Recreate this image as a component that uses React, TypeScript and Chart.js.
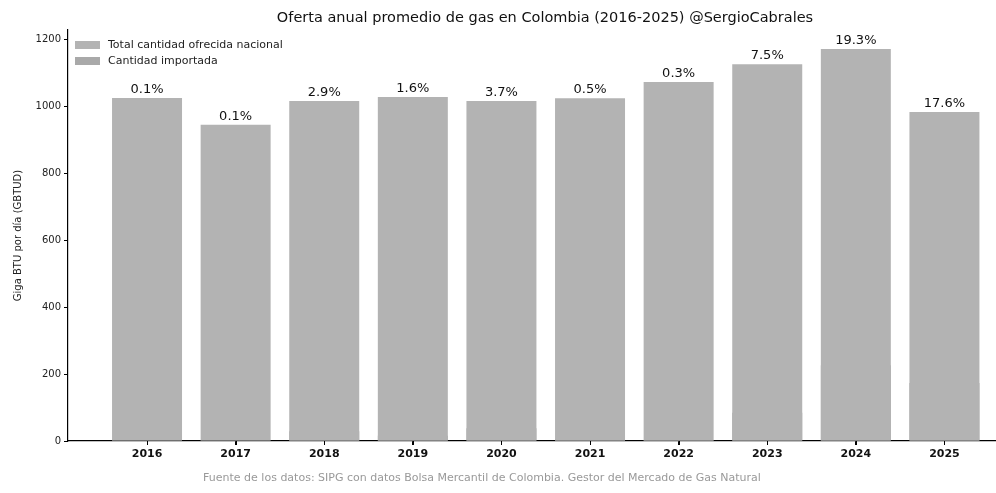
import { useEffect, useRef } from "react";
import { Chart, registerables } from "chart.js";

Chart.register(...registerables);

const years = [2016, 2017, 2018, 2019, 2020, 2021, 2022, 2023, 2024, 2025];
const totalSupply = [1024, 944, 1015, 1027, 1015, 1023, 1072, 1125, 1170, 982];
const importedSupply = [1, 1, 29, 16, 38, 5, 3, 84, 226, 173];
const importedShare = [0.1, 0.1, 2.9, 1.6, 3.7, 0.5, 0.3, 7.5, 19.3, 17.6];
const yTicks = [0, 200, 400, 600, 800, 1000, 1200];

const titleText = "Oferta anual promedio de gas en Colombia (2016-2025) @SergioCabrales";
const yTitle = "Giga BTU por día (GBTUD)";
const legendLabels = ["Total cantidad ofrecida nacional", "Cantidad importada"];
const sourceText =
  "Fuente de los datos: SIPG con datos Bolsa Mercantil de Colombia. Gestor del Mercado de Gas Natural";

const FONT = "'DejaVu Sans', 'Liberation Sans', sans-serif";
const totalColor = "#b3b3b3";
const importColor = "#a9a9a9";

const decorPlugin = {
  id: "decor",
  afterDatasetsDraw(chart: any) {
    const ctx = chart.ctx;
    const meta = chart.getDatasetMeta(0);
    ctx.save();
    ctx.fillStyle = "#111";
    ctx.font = `13px ${FONT}`;
    ctx.textAlign = "center";
    ctx.textBaseline = "bottom";
    meta.data.forEach((bar: any, i: number) => {
      ctx.fillText(importedShare[i].toFixed(1) + "%", bar.x, bar.y - 2);
    });
    ctx.restore();
  },
  afterDraw(chart: any) {
    const ctx = chart.ctx;
    const area = chart.chartArea;
    ctx.save();
    ctx.fillStyle = "#111";
    ctx.font = `14.5px ${FONT}`;
    ctx.textAlign = "center";
    ctx.textBaseline = "middle";
    ctx.fillText(titleText, 545, 18);
    ctx.save();
    ctx.translate(18, (area.top + area.bottom) / 2);
    ctx.rotate(-Math.PI / 2);
    ctx.font = `10px ${FONT}`;
    ctx.fillStyle = "#222";
    ctx.fillText(yTitle, 0, 0);
    ctx.restore();
    const colors = [totalColor, importColor];
    ctx.font = `11px ${FONT}`;
    ctx.textAlign = "left";
    legendLabels.forEach((lab, i) => {
      const y = 45 + i * 16;
      ctx.fillStyle = colors[i];
      ctx.fillRect(75, y - 4, 25, 8);
      ctx.fillStyle = "#222";
      ctx.fillText(lab, 108, y);
    });
    ctx.font = `11px ${FONT}`;
    ctx.fillStyle = "#999";
    ctx.textAlign = "center";
    ctx.fillText(sourceText, 482, 478);
    const xs = chart.scales.x;
    ctx.strokeStyle = "#000";
    ctx.lineWidth = 1;
    years.forEach((yv) => {
      const px = Math.round(xs.getPixelForValue(yv)) + 0.5;
      ctx.beginPath();
      ctx.moveTo(px, area.bottom);
      ctx.lineTo(px, area.bottom + 4);
      ctx.stroke();
    });
    ctx.restore();
  },
};

export default function App() {
  const ref = useRef<HTMLCanvasElement | null>(null);

  useEffect(() => {
    if (!ref.current) return;
    const chart = new Chart(ref.current, {
      type: "bar",
      data: {
        datasets: [
          {
            label: legendLabels[0],
            data: years.map((y, i) => ({ x: y, y: totalSupply[i] })),
            backgroundColor: totalColor,
            borderWidth: 0,
            barPercentage: 0.79,
            categoryPercentage: 1,
            grouped: false,
          } as any,
          {
            label: legendLabels[1],
            data: years.map((y, i) => ({ x: y, y: importedSupply[i] })),
            backgroundColor: importColor,
            borderWidth: 0,
            barPercentage: 0.79,
            categoryPercentage: 1,
            grouped: false,
          } as any,
        ],
      },
      options: {
        responsive: false,
        animation: false,
        devicePixelRatio: 1,
        layout: { padding: { top: 30, left: 0, right: 0, bottom: 0 } },
        plugins: {
          legend: { display: false },
          title: { display: false },
          tooltip: { enabled: false },
        },
        scales: {
          x: {
            type: "linear",
            offset: false,
            min: 2015.108,
            max: 2025.582,
            afterBuildTicks: (scale: any) => {
              scale.ticks = years.map((v) => ({ value: v }));
            },
            afterFit: (scale: any) => {
              scale.height = 52;
            },
            ticks: {
              callback: (v: any) => String(v),
              color: "#111",
              font: { family: FONT, size: 11, weight: "bold" },
              padding: 3,
              maxRotation: 0,
              autoSkip: false,
            },
            grid: {
              display: true,
              offset: false,
              drawOnChartArea: false,
              drawTicks: true,
              tickLength: 4,
              color: "#000",
            },
            border: { display: true, color: "#000", width: 1.2 },
          },
          y: {
            type: "linear",
            min: 0,
            max: 1227,
            afterBuildTicks: (scale: any) => {
              scale.ticks = yTicks.map((v) => ({ value: v }));
            },
            afterFit: (scale: any) => {
              scale.width = 68;
            },
            ticks: {
              callback: (v: any) => String(v),
              color: "#222",
              font: { family: FONT, size: 10 },
              padding: 3,
            },
            grid: {
              display: true,
              drawOnChartArea: false,
              drawTicks: true,
              tickLength: 4,
              color: "#000",
            },
            border: { display: true, color: "#000", width: 1.2 },
          },
        },
      } as any,
      plugins: [decorPlugin],
    });
    return () => chart.destroy();
  }, []);

  return (
    <div style={{ position: "fixed", left: 0, top: 0, width: 996, height: 493, background: "#fff" }}>
      <canvas ref={ref} width={996} height={493} style={{ display: "block" }} />
    </div>
  );
}
